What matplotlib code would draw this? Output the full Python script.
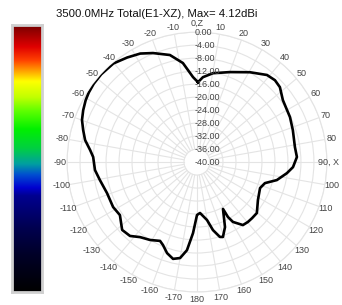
#!/usr/bin/env python3
"""
Polar radiation pattern (normalized) with a colour scale bar on the left.
"""

import numpy as np
import matplotlib
matplotlib.use("Agg")
import matplotlib.pyplot as plt
from matplotlib.colors import LinearSegmentedColormap

# Data (angle clockwise from Z, normalized gain in dB)
angles_deg = [0.7, 4, 10.2, 20.1, 30.5, 38.8, 43.6, 47.9, 54.2, 64.2, 71.6, 81.3,
              87.1, 93, 97, 102.7, 107.2, 112.4, 121.9, 130.4, 135.5, 139.6, 143.9,
              149, 150.6, 151, 156.7, 160.9, 163, 166.8, 170.2, 176.6, 180, 183.2,
              186.5, 190, 193.9, 198.2, 202.3, 205.1, 211.1, 217.2, 222.2, 227.8,
              235.5, 241.8, 251, 259.5, 265.5, 272.8, 276.4, 281.1, 285.7, 290.1,
              294.5, 299.0, 302.7, 307.2, 312.5, 319.7, 326.3, 332.4, 338, 345.8,
              351.9, 357.3]
gain_db = [-15.4, -13.8, -12.2, -10.5, -7.9, -5.6, -5.2, -5.6, -7.4, -8.2, -8.9, -9.5,
           -9.2, -10.4, -12.1, -14.8, -18.1, -19.0, -17.9, -15.8, -15.8, -15.8, -16.0,
           -18.5, -20.6, -23.5, -18.2, -15.6, -15.9, -18.5, -21.9, -24.3, -23.7, -18.1,
           -12.7, -10.0, -9.3, -10.5, -12.4, -13.2, -12.0, -11.0, -9.3, -8.9,
           -11.2, -10.7, -10.7, -9.6, -8.5, -8.0, -6.9, -4.9, -3.6, -2.3,
           -1.5, -0.8, -0.4, -0.1, 0.0, -0.2, -1.3, -2.3, -3.8, -6.0,
           -9.2, -13.8]

radial_levels = [0, -4, -8, -12, -16, -20, -24, -28, -32, -36, -40]
angle_ticks = list(range(-170, 190, 10))

title = "3500.0MHz Total(E1-XZ), Max= 4.12dBi"

# colour scale (top = dark red, bottom = black)
scale_pos = [0.0, 0.14, 0.24, 0.36, 0.39, 0.44, 0.48, 0.54, 0.61, 0.68, 0.73, 0.79, 0.83, 0.87, 0.92, 1.0]
scale_colors = ['#000000', '#000028', '#000050', '#000090', '#0000d0', '#0050d0', '#00a0a0',
                '#00d040', '#00f000', '#60ff00', '#c0ff00', '#ffff00', '#ffa000',
                '#ff4000', '#e00000', '#780000']


def angle_label(a):
    if a == 0:
        return "0,Z"
    if a == 90:
        return "90, X"
    return str(a)


def main():
    fig = plt.figure(figsize=(3.42, 3.05), dpi=100)
    fig.patch.set_facecolor('white')

    # colour bar
    cax = fig.add_axes([0.035, 0.0426, 0.0877, 0.875])
    cmap = LinearSegmentedColormap.from_list('scale', list(zip(scale_pos, scale_colors)))
    grad = np.linspace(1, 0, 256).reshape(-1, 1)
    cax.imshow(grad, aspect='auto', cmap=cmap, interpolation='bilinear')
    cax.set_xticks([])
    cax.set_yticks([])
    for sp in cax.spines.values():
        sp.set_color('#d0d0d0')
        sp.set_linewidth(2)

    # polar plot
    ax = fig.add_axes([0.196, 0.0426, 0.760, 0.852], projection='polar')
    ax.set_theta_zero_location('N')
    ax.set_theta_direction(-1)
    ax.set_rlim(-40, 0)

    grid_color = '#e4e4e4'
    ax.set_yticks(radial_levels[:-1])
    ax.set_yticklabels([])
    ax.set_xticks([])
    ax.yaxis.grid(True, color=grid_color, linewidth=0.8)
    ax.spines['polar'].set_color(grid_color)
    ax.spines['polar'].set_linewidth(0.8)
    for a in range(0, 360, 10):
        t = np.deg2rad(a)
        ax.plot([t, t], [-36, 0], color=grid_color, linewidth=0.8, zorder=1)

    # pattern (closed)
    th = np.deg2rad(angles_deg + [angles_deg[0]])
    rr = gain_db + [gain_db[0]]
    ax.plot(th, rr, color='black', linewidth=1.9, zorder=3)

    # angle labels
    for a in angle_ticks:
        if a == 90:
            ax.text(np.deg2rad(a), -2.8, angle_label(a), ha='left', va='center',
                    fontsize=6.5, color='#444444', family='Liberation Sans', clip_on=False)
            continue
        r_lab = 2.6 if a == 0 else 2.2
        ax.text(np.deg2rad(a), r_lab, angle_label(a), ha='center', va='center',
                fontsize=6.5, color='#444444', family='Liberation Sans', clip_on=False)

    # radial labels column
    for v in radial_levels:
        ax.annotate(f"{v:.2f}", xy=(0, v), xytext=(-1.5, 0), textcoords='offset points',
                    ha='left', va='center', fontsize=6.5, color='#444444',
                    family='Liberation Sans', zorder=4)

    fig.text(0.457, 0.954, title, ha='center', va='center', fontsize=8.2,
             color='#111111', family='Liberation Sans')

    fig.savefig('out.png', dpi=100, facecolor='white')


if __name__ == "__main__":
    main()
